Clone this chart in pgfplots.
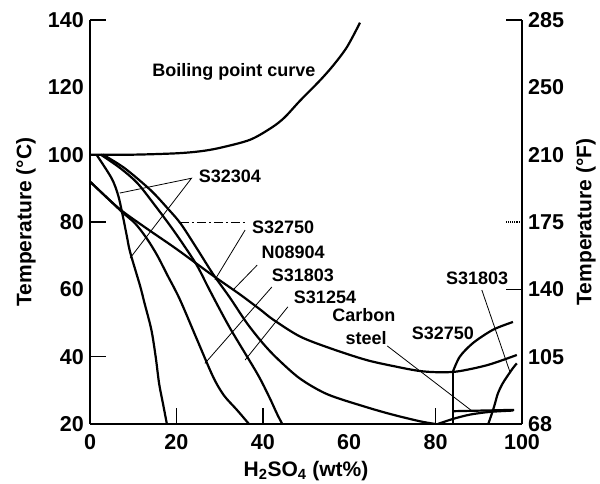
\documentclass[border=0pt]{standalone}
\usepackage{pgfplots}
\pgfplotsset{compat=1.18}
\usepackage{fontspec}
\setmainfont{Liberation Sans}
\begin{document}
\fontsize{18bp}{21bp}\selectfont\bfseries
\begin{tikzpicture}
\pgfplotsset{
  curve/.style={black, line width=2.2bp, smooth, tension=0.5},
  lead/.style={black, line width=0.8bp},
  vistick/.style={major tick length=16bp, tick align=inside, tick style={line width=1.4bp, black}},
  every tick label/.append style={font=\fontsize{21.5bp}{24bp}\selectfont\bfseries},
  every axis label/.append style={font=\fontsize{21bp}{24bp}\selectfont\bfseries},
}
\begin{axis}[
  scale only axis, width=432bp, height=404bp,
  xmin=0, xmax=100, ymin=20, ymax=140,
  axis x line*=bottom, axis y line*=left,
  axis line style={-, line width=1.8bp},
  xtick={0,20,40,60,80,100}, xticklabels={0,20,40,60,80,100},
  ytick={20,40,60,80,100,120,140}, yticklabels={20,40,60,80,100,120,140},
  major tick length=0pt,
  extra x ticks={20,40,80}, extra x tick labels={}, extra x tick style={vistick},
  extra y ticks={40,80,140}, extra y tick labels={}, extra y tick style={vistick},
  xlabel={H\textsubscript{2}SO\textsubscript{4} (wt\%)},
  ylabel={Temperature (°C)},
  xticklabel style={yshift=-4bp},
  xlabel style={yshift=0bp},
  clip=true,
]
% boiling point curve
\addplot[curve] coordinates {(0,100)(10,100)(20,100.4)(25.5,101)(30,102)(37,104.4)(42,108)(45,111)(48.6,116)(53.2,122)(56.3,126.5)(59.5,132)(62.5,139.2)};
% C1
\addplot[curve] coordinates {(1.5,100)(5,93)(6.5,88)(7.4,83)(8.5,76)(9.3,71)(11.6,61)(12.6,56)(14.2,48)(15.2,40)(16,32)(16.9,26)(17.8,20)};
% C2
\addplot[curve] coordinates {(0,92)(3.7,87.5)(7.4,83)(10.5,79.5)(13.2,75)(15.6,70)(17.8,64.5)(20.8,57)(24.8,45)(28.5,34)(31,28.5)(34,24.2)(36.8,20)};
% R1
\addplot[curve] coordinates {(0,92)(3.7,87.5)(7.4,83.3)(13.2,78)(20,72)(28,64.5)(34.7,58.5)(39.4,54)(42.4,51)(48.6,46)(55.6,42.5)(64,39)(71,37)(76,35.8)(80,35.4)(85,35.6)(92,37.5)(98.8,40.5)};
% C3
\addplot[curve] coordinates {(2.5,100)(7,96)(11,91.5)(15,85)(18.5,79)(21.5,73.5)(24.8,67)(27.8,59.5)(32.4,48.5)(38.7,35)(41.5,28)(43.3,23)(44.5,20)};
% C4
\addplot[curve] coordinates {(3,100)(8,96)(14,89.5)(18,84)(21,79.5)(24.8,72)(28.5,64.5)(32.4,57.5)(36.3,50)(40,44)(43.3,39.5)(48.6,33.5)(55,28.8)(64,25)(70,22.8)(76.4,20.8)(80,20)};
% S32750 high
\addplot[black, line width=2.2bp] coordinates {(84,20)(84,35.5)};
\addplot[curve] coordinates {(84,35.5)(85.6,40)(88.7,44.1)(93.3,48)(97.9,50.3)};
% S31803 high
\addplot[curve] coordinates {(92.2,20)(93.5,25)(94.4,29)(95.5,32)(96.5,34)(97.9,36.6)(98.8,38)};
% carbon steel
\addplot[curve] coordinates {(80.5,20)(84,21.5)(88,22.8)(92.6,23.6)(98,24)};
\addplot[black, line width=2.2bp] coordinates {(84,23.8)(98.2,24.2)};
% leaders
\addplot[lead] coordinates {(6.9,88.6)(23.5,93)(9.3,69.3)};
\addplot[lead, dash pattern=on 9bp off 3bp on 2bp off 3bp] coordinates {(20.8,80)(36,80)};
\addplot[lead] coordinates {(35.9,77.6)(28.9,62.8)};
\addplot[lead] coordinates {(38.7,67.2)(33.1,59.8)};
\addplot[lead] coordinates {(42.1,60.7)(26.6,38)};
\addplot[lead] coordinates {(45.8,54.8)(35.9,39)};
\addplot[lead] coordinates {(68.8,43.2)(88.7,23.6)};
\addplot[lead] coordinates {(90.7,59.8)(97.2,35.5)};
% labels
\node at (axis cs:33.3,124.6) {Boiling point curve};
\node at (axis cs:32.4,93.7) {S32304};
\node at (axis cs:44.7,78.5) {S32750};
\node at (axis cs:47,71) {N08904};
\node at (axis cs:49.3,64.3) {S31803};
\node at (axis cs:54.4,57.7) {S31254};
\node at (axis cs:63.4,52.4) {Carbon};
\node at (axis cs:63.9,45.6) {steel};
\node at (axis cs:81.7,47) {S32750};
\node at (axis cs:89.6,63.4) {S31803};
\end{axis}
\begin{axis}[
  scale only axis, width=432bp, height=404bp,
  xmin=0, xmax=100, ymin=68, ymax=284,
  axis x line=none, axis y line*=right,
  axis line style={-, line width=1.8bp},
  ytick={68,104,140,176,212,248,284}, yticklabels={68,105,140,175,210,250,285},
  major tick length=0pt,
  extra y ticks={140,284}, extra y tick labels={}, extra y tick style={vistick},
  ylabel={Temperature (°F)},
  clip=false,
]
\draw[densely dotted, line width=1.2bp] (rel axis cs:1,0.5) -- ++(-16bp,0bp);
\end{axis}
\pgfresetboundingbox
\path (-90bp,-60bp) rectangle (510bp,424bp);
\end{tikzpicture}
\end{document}
